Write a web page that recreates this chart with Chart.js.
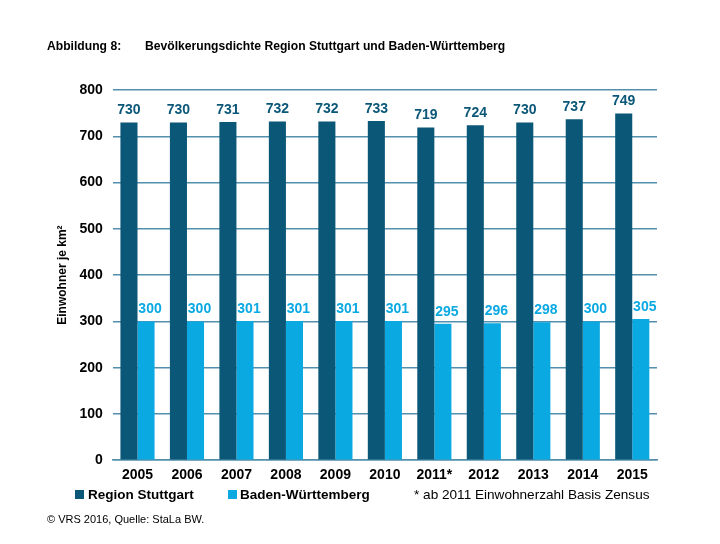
<!DOCTYPE html>
<html>
<head>
<meta charset="utf-8">
<script src="https://cdn.jsdelivr.net/npm/chart.js@4"></script>
<style>
  html, body { margin: 0; padding: 0; background: #fff; }
  #wrap { position: relative; width: 720px; height: 544px; font-family: "Liberation Sans", Arial, sans-serif; }
  canvas { position: absolute; left: 0; top: 0; }
  .txt { position: absolute; white-space: nowrap; color: #000; line-height: 1; }
  .box { position: absolute; width: 9px; height: 9px; }
</style>
</head>
<body>
<div id="wrap">
  <canvas id="chart" width="720" height="544"></canvas>
  <div class="txt" style="left:47px; top:40px; font-size:12.15px; font-weight:bold;">Abbildung 8:</div>
  <div class="txt" style="left:145px; top:40px; font-size:12.15px; font-weight:bold;">Bevölkerungsdichte Region Stuttgart und Baden-Württemberg</div>
  <div id="legend"></div>
  <div class="txt" style="left:414px; top:488px; font-size:13.6px;">* ab 2011 Einwohnerzahl Basis Zensus</div>
  <div class="txt" style="left:47px; top:514px; font-size:11px;">© VRS 2016, Quelle: StaLa BW.</div>
</div>
<script>
const years = ['2005', '2006', '2007', '2008', '2009', '2010', '2011*', '2012', '2013', '2014', '2015'];
const regionStuttgart = [730, 730, 731, 732, 732, 733, 719, 724, 730, 737, 749];
const badenWuerttemberg = [300, 300, 301, 301, 301, 301, 295, 296, 298, 300, 305];
const yTicks = [0, 100, 200, 300, 400, 500, 600, 700, 800];

const darkBlue = '#0b5777';
const lightBlue = '#0aa9e2';
const gridBlue = '#5290ae';
const fontFamily = '"Liberation Sans", Arial, sans-serif';

// Werte über den Balken (hellblaue Werte leicht nach rechts versetzt wie im Original)
const valueLabels = {
    id: 'valueLabels',
    afterDatasetsDraw(chart) {
        const ctx = chart.ctx;
        ctx.save();
        ctx.font = 'bold 14px ' + fontFamily;
        ctx.textAlign = 'center';
        ctx.textBaseline = 'bottom';
        chart.data.datasets.forEach((ds, i) => {
            ctx.fillStyle = ds.backgroundColor;
            const dx = i === 1 ? 4 : 0;
            chart.getDatasetMeta(i).data.forEach((bar, j) => {
                ctx.fillText(ds.data[j], bar.x + dx, bar.y - 5);
            });
        });
        ctx.restore();
    }
};

const chart = new Chart(document.getElementById('chart').getContext('2d'), {
    type: 'bar',
    data: {
        labels: years,
        datasets: [
            {
                label: 'Region Stuttgart',
                data: regionStuttgart,
                backgroundColor: darkBlue,
                categoryPercentage: 0.69,
                barPercentage: 1.0
            },
            {
                label: 'Baden-Württemberg',
                data: badenWuerttemberg,
                backgroundColor: lightBlue,
                categoryPercentage: 0.69,
                barPercentage: 1.0
            }
        ]
    },
    options: {
        responsive: false,
        animation: false,
        layout: { padding: { left: 40, right: 63, top: 90, bottom: 53 } },
        plugins: {
            legend: { display: false },
            tooltip: { enabled: false }
        },
        scales: {
            x: {
                grid: { display: false, drawTicks: false },
                border: { color: gridBlue, width: 1.5 },
                ticks: {
                    padding: 7,
                    color: '#000',
                    font: { family: fontFamily, size: 14, weight: 'bold' }
                }
            },
            y: {
                min: 0,
                max: 800,
                afterBuildTicks: axis => { axis.ticks = yTicks.map(v => ({ value: v })); },
                grid: { color: gridBlue, lineWidth: 1.5, drawTicks: false },
                border: { display: false },
                ticks: {
                    padding: 10,
                    color: '#000',
                    font: { family: fontFamily, size: 14, weight: 'bold' }
                },
                title: {
                    display: true,
                    text: 'Einwohner je km²',
                    color: '#000',
                    font: { family: fontFamily, size: 12, weight: 'bold' },
                    padding: { top: 15, bottom: 0 }
                }
            }
        }
    },
    plugins: [valueLabels]
});

// Legende unten links, aus den Datensätzen gebaut
const legendPos = [{ box: 75, text: 88 }, { box: 228, text: 240 }];
const legendEl = document.getElementById('legend');
chart.data.datasets.forEach((ds, i) => {
    const box = document.createElement('div');
    box.className = 'box';
    box.style.left = legendPos[i].box + 'px';
    box.style.top = '490px';
    box.style.background = ds.backgroundColor;
    legendEl.appendChild(box);
    const t = document.createElement('div');
    t.className = 'txt';
    t.style.left = legendPos[i].text + 'px';
    t.style.top = '488px';
    t.style.fontSize = '13.5px';
    t.style.fontWeight = 'bold';
    t.textContent = ds.label;
    legendEl.appendChild(t);
});
</script>
</body>
</html>
